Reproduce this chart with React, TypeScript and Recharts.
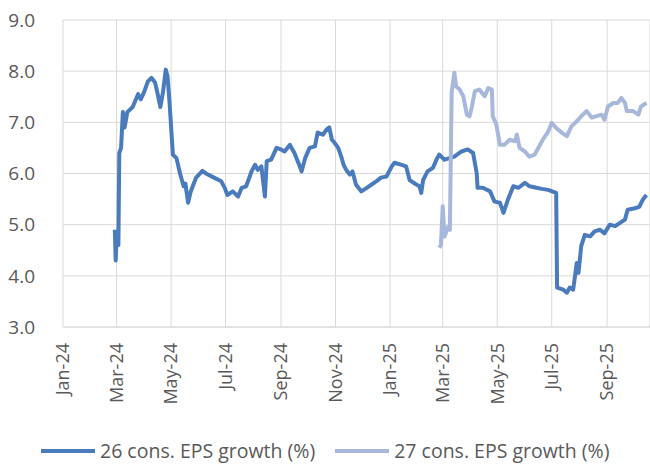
import React from 'react';
import { LineChart, Line, XAxis, YAxis, CartesianGrid, Legend } from 'recharts';

const eps26Dates = [
  '2024-02-28', '2024-02-29', '2024-03-01', '2024-03-03', '2024-03-04', '2024-03-06', '2024-03-08', '2024-03-10',
  '2024-03-13', '2024-03-19', '2024-03-25', '2024-03-28', '2024-04-01', '2024-04-05', '2024-04-09', '2024-04-13',
  '2024-04-16', '2024-04-19', '2024-04-22', '2024-04-25', '2024-04-27', '2024-04-29', '2024-05-03', '2024-05-07',
  '2024-05-11', '2024-05-15', '2024-05-17', '2024-05-20', '2024-05-23', '2024-05-29', '2024-06-05', '2024-06-09',
  '2024-06-18', '2024-06-26', '2024-06-30', '2024-07-03', '2024-07-09', '2024-07-15', '2024-07-19', '2024-07-24',
  '2024-07-30', '2024-08-03', '2024-08-06', '2024-08-10', '2024-08-14', '2024-08-16', '2024-08-21', '2024-08-27',
  '2024-09-01', '2024-09-05', '2024-09-11', '2024-09-16', '2024-09-22', '2024-09-24', '2024-09-28', '2024-10-03',
  '2024-10-09', '2024-10-12', '2024-10-18', '2024-10-22', '2024-10-25', '2024-10-28', '2024-10-31', '2024-11-04',
  '2024-11-08', '2024-11-10', '2024-11-13', '2024-11-17', '2024-11-20', '2024-11-24', '2024-11-30', '2024-12-06',
  '2024-12-11', '2024-12-17', '2024-12-22', '2024-12-28', '2025-01-03', '2025-01-06', '2025-01-14', '2025-01-19',
  '2025-01-23', '2025-01-29', '2025-02-03', '2025-02-05', '2025-02-07', '2025-02-12', '2025-02-18', '2025-02-22',
  '2025-02-25', '2025-03-03', '2025-03-14', '2025-03-22', '2025-03-29', '2025-04-04', '2025-04-08', '2025-04-09',
  '2025-04-15', '2025-04-23', '2025-04-28', '2025-05-04', '2025-05-08', '2025-05-13', '2025-05-19', '2025-05-25',
  '2025-06-01', '2025-06-06', '2025-06-14', '2025-06-20', '2025-06-27', '2025-07-06', '2025-07-07', '2025-07-14',
  '2025-07-18', '2025-07-21', '2025-07-25', '2025-07-29', '2025-07-31', '2025-08-03', '2025-08-07', '2025-08-13',
  '2025-08-18', '2025-08-24', '2025-08-29', '2025-09-04', '2025-09-10', '2025-09-15', '2025-09-21', '2025-09-24',
  '2025-10-02', '2025-10-07', '2025-10-11', '2025-10-15',
];
const eps26Values = [
  4.9, 4.3, 4.8, 4.6, 6.4, 6.5, 7.2, 6.9,
  7.2, 7.3, 7.55, 7.45, 7.6, 7.8, 7.87, 7.78,
  7.55, 7.3, 7.6, 8.03, 7.9, 7.45, 6.37, 6.3,
  6.0, 5.75, 5.8, 5.43, 5.65, 5.92, 6.05, 6.0,
  5.92, 5.85, 5.72, 5.58, 5.65, 5.55, 5.72, 5.75,
  6.04, 6.17, 6.07, 6.14, 5.55, 6.24, 6.27, 6.5,
  6.47, 6.43, 6.56, 6.4, 6.14, 6.04, 6.3, 6.5,
  6.53, 6.8, 6.76, 6.86, 6.9, 6.66, 6.6, 6.5,
  6.3, 6.17, 6.07, 5.98, 6.04, 5.78, 5.65, 5.72,
  5.78, 5.85, 5.92, 5.94, 6.14, 6.21, 6.17, 6.14,
  5.87, 5.8, 5.75, 5.62, 5.87, 6.04, 6.11, 6.27,
  6.37, 6.27, 6.33, 6.43, 6.47, 6.4, 6.01, 5.72,
  5.72, 5.65, 5.45, 5.43, 5.23, 5.49, 5.75, 5.72,
  5.82, 5.75, 5.72, 5.7, 5.68, 5.62, 3.77, 3.73,
  3.67, 3.77, 3.73, 4.25, 4.06, 4.58, 4.8, 4.77,
  4.87, 4.9, 4.83, 5.0, 4.97, 5.03, 5.1, 5.29,
  5.32, 5.35, 5.49, 5.58,
];

const eps27Dates = [
  '2025-02-25', '2025-02-27', '2025-03-01', '2025-03-03', '2025-03-07', '2025-03-09', '2025-03-11', '2025-03-13',
  '2025-03-14', '2025-03-16', '2025-03-20', '2025-03-24', '2025-03-28', '2025-03-31', '2025-04-02', '2025-04-06',
  '2025-04-11', '2025-04-17', '2025-04-21', '2025-04-25', '2025-04-26', '2025-04-30', '2025-05-04', '2025-05-09',
  '2025-05-15', '2025-05-21', '2025-05-23', '2025-05-26', '2025-06-01', '2025-06-06', '2025-06-12', '2025-06-15',
  '2025-06-21', '2025-06-27', '2025-07-01', '2025-07-06', '2025-07-12', '2025-07-18', '2025-07-23', '2025-07-29',
  '2025-08-03', '2025-08-09', '2025-08-15', '2025-08-20', '2025-08-26', '2025-08-29', '2025-09-02', '2025-09-08',
  '2025-09-13', '2025-09-17', '2025-09-21', '2025-09-23', '2025-09-30', '2025-10-06', '2025-10-09', '2025-10-15',
];
const eps27Values = [
  4.55, 4.6, 5.36, 4.77, 4.96, 4.9, 7.58, 7.84,
  7.97, 7.7, 7.64, 7.51, 7.15, 7.12, 7.25, 7.61,
  7.64, 7.51, 7.67, 7.64, 7.12, 6.96, 6.56, 6.56,
  6.66, 6.63, 6.76, 6.5, 6.43, 6.33, 6.37, 6.47,
  6.66, 6.82, 6.99, 6.89, 6.8, 6.73, 6.92, 7.02,
  7.12, 7.22, 7.09, 7.12, 7.15, 7.05, 7.31, 7.38,
  7.38, 7.48, 7.38, 7.22, 7.22, 7.15, 7.31, 7.38,
];

const xTickDates = [
  '2024-01-01', '2024-03-01', '2024-05-01', '2024-07-01', '2024-09-01', '2024-11-01',
  '2025-01-01', '2025-03-01', '2025-05-01', '2025-07-01', '2025-09-01',
];
const yTicks = [3, 4, 5, 6, 7, 8, 9];
const monthNames = ['Jan', 'Feb', 'Mar', 'Apr', 'May', 'Jun', 'Jul', 'Aug', 'Sep', 'Oct', 'Nov', 'Dec'];

const DARK = '#4a7bbd';
const LIGHT = '#a7b8da';
const TEXT = '#595959';
const GRID = '#d9d9d9';
const FONT = '"Open Sans", "Noto Sans", sans-serif';

const toTime = (d: string) => Date.parse(d + 'T00:00:00Z');
const data26 = eps26Dates.map((d, i) => ({ t: toTime(d), v: eps26Values[i] }));
const data27 = eps27Dates.map((d, i) => ({ t: toTime(d), v: eps27Values[i] }));
const xTicks = xTickDates.map(toTime);
const xDomain = [toTime('2024-01-01'), toTime('2025-10-19')];

const fmtMonth = (t: number) => {
  const d = new Date(t);
  return `${monthNames[d.getUTCMonth()]}-${String(d.getUTCFullYear()).slice(2)}`;
};

const DateTick = (props: any) => {
  const { x, payload } = props;
  return (
    <text
      x={x}
      y={343}
      transform={`rotate(-90, ${x}, 343)`}
      textAnchor="end"
      dy="0.35em"
      fill={TEXT}
      fontSize={18}
      fontFamily={FONT}
    >
      {fmtMonth(payload.value)}
    </text>
  );
};

const legendItems = [
  { label: '26 cons. EPS growth (%)', color: DARK },
  { label: '27 cons. EPS growth (%)', color: LIGHT },
];

const LegendBox = () => (
  <div
    style={{
      display: 'flex',
      alignItems: 'center',
      height: 30,
      boxSizing: 'border-box',
      paddingLeft: 41,
      paddingTop: 2,
    }}
  >
    {legendItems.map((it) => (
      <div key={it.label} style={{ display: 'flex', alignItems: 'center', marginRight: 20 }}>
        <div style={{ width: 54, height: 4, background: it.color }} />
        <span style={{ color: TEXT, fontSize: 19.5, fontFamily: FONT, marginLeft: 5, whiteSpace: 'nowrap', lineHeight: '22px' }}>
          {it.label}
        </span>
      </div>
    ))}
  </div>
);

export default function App() {
  return (
    <div style={{ position: 'absolute', left: 0, top: 0, width: 650, height: 465, background: '#fff' }}>
      <LineChart width={650} height={465} margin={{ top: 20, right: 0, bottom: 0, left: 0 }}>
        <CartesianGrid stroke={GRID} />
        <XAxis
          type="number"
          dataKey="t"
          domain={xDomain}
          ticks={xTicks}
          height={108}
          axisLine={{ stroke: GRID }}
          tickLine={false}
          tick={<DateTick />}
          interval={0}
          allowDataOverflow
        />
        <YAxis
          type="number"
          domain={[3, 9]}
          ticks={yTicks}
          width={63}
          axisLine={false}
          tickLine={false}
          tickSize={0}
          tickMargin={28}
          tickFormatter={(v: number) => v.toFixed(1)}
          tick={{ fill: TEXT, fontSize: 19, fontFamily: FONT }}
        />
        <Legend verticalAlign="bottom" height={30} content={<LegendBox />} />
        <Line
          data={data26}
          dataKey="v"
          type="linear"
          stroke={DARK}
          strokeWidth={4}
          dot={false}
          strokeLinejoin="round"
          isAnimationActive={false}
        />
        <Line
          data={data27}
          dataKey="v"
          type="linear"
          stroke={LIGHT}
          strokeWidth={4}
          dot={false}
          strokeLinejoin="round"
          isAnimationActive={false}
        />
      </LineChart>
    </div>
  );
}
